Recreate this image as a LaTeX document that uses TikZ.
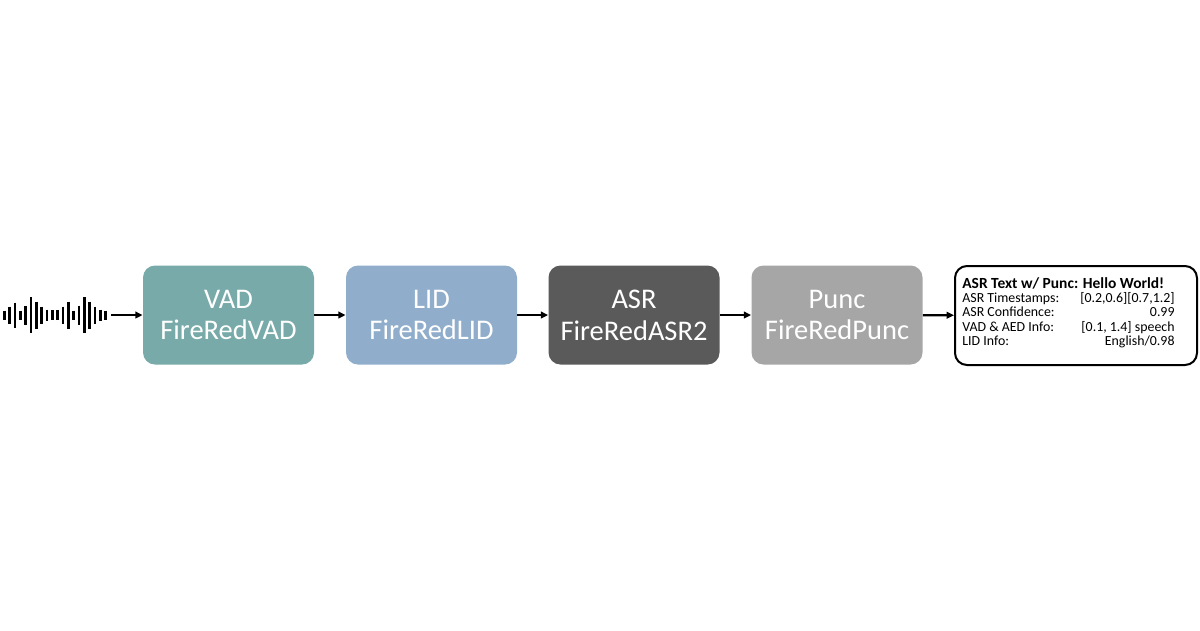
\documentclass[tikz,border=0pt]{standalone}
\usepackage{fontspec}
\setmainfont{Carlito}
\usepackage{xcolor}
\usetikzlibrary{arrows.meta}

\definecolor{vadcol}{RGB}{120,170,170}
\definecolor{lidcol}{RGB}{144,174,203}
\definecolor{asrcol}{RGB}{90,90,90}
\definecolor{punccol}{RGB}{166,166,166}

\def\PX{0.02cm}

\begin{document}
\begin{tikzpicture}[
    x=\PX, y=-\PX,
    stage/.style={minimum width=171*\PX, minimum height=99*\PX, inner sep=0pt,
                  rounded corners=12*\PX, text=white, align=center,
                  font=\fontsize{16.2}{18.1}\selectfont},
    vadbox/.style={stage, fill=vadcol},
    lidbox/.style={stage, fill=lidcol},
    asrbox/.style={stage, fill=asrcol},
    puncbox/.style={stage, fill=punccol},
    % ── result panel ──
    infobox/.style={draw=black, line width=2*\PX, rounded corners=12*\PX,
                    minimum width=242*\PX, minimum height=99*\PX, inner sep=0pt},
    infotext/.style={anchor=west, inner sep=0pt, font=\fontsize{7.9}{7.95}\selectfont},
    flow/.style={-{Triangle[length=4.2pt, width=3.8pt]}, line width=2.2*\PX, black},
    wavebar/.style={line width=2.6*\PX, black},
]

\fill[white] (0,0) rectangle (1200,630);
\useasboundingbox (0,0) rectangle (1200,630);

% ══════════════════════════════════════
% Input waveform
% ══════════════════════════════════════
\foreach \h [count=\i from 0] in {9,17,25,9,19,36,27,17,11,10,10,17,27,9,19,36,27,17,11,9}
    \draw[wavebar] ({4.3+5.34*\i}, {315-\h/2}) -- ++(0,\h);
\coordinate (wave) at (111,315);

% ══════════════════════════════════════
% Pipeline stages
% ══════════════════════════════════════
\node[vadbox]  (vad)  at (228.5,315) {VAD\\FireRedVAD};
\node[lidbox]  (lid)  at (431.5,315) {LID\\FireRedLID};
\node[asrbox]  (asr)  at (634,315)   {ASR\\FireRedASR2};
\node[puncbox] (punc) at (837,315)   {Punc\\FireRedPunc};

% ══════════════════════════════════════
% Output
% ══════════════════════════════════════
\node[infobox] (info) at (1076,315.5) {};
\node[infotext] (infotxt) at ([xshift=8*\PX, yshift=2*\PX]info.west) {%
    \begin{tabular*}{4.2cm}{@{\extracolsep{\fill}}l r@{}}
        \multicolumn{2}{@{}l@{}}{\fontsize{8.8}{7.95}\selectfont\textbf{ASR Text w/ Punc: Hello World!}}\\
        ASR Timestamps: & [0.2,0.6][0.7,1.2]\\
        ASR Confidence: & 0.99\\
        VAD \& AED Info: & [0.1, 1.4] speech\\
        LID Info: & English/0.98
    \end{tabular*}};

% Arrows
\draw[flow] (wave) -- (vad);
\draw[flow] (vad) -- (lid);
\draw[flow] (lid) -- (asr);
\draw[flow] (asr) -- (punc);
\draw[flow] (punc) -- (info);

\end{tikzpicture}
\end{document}
